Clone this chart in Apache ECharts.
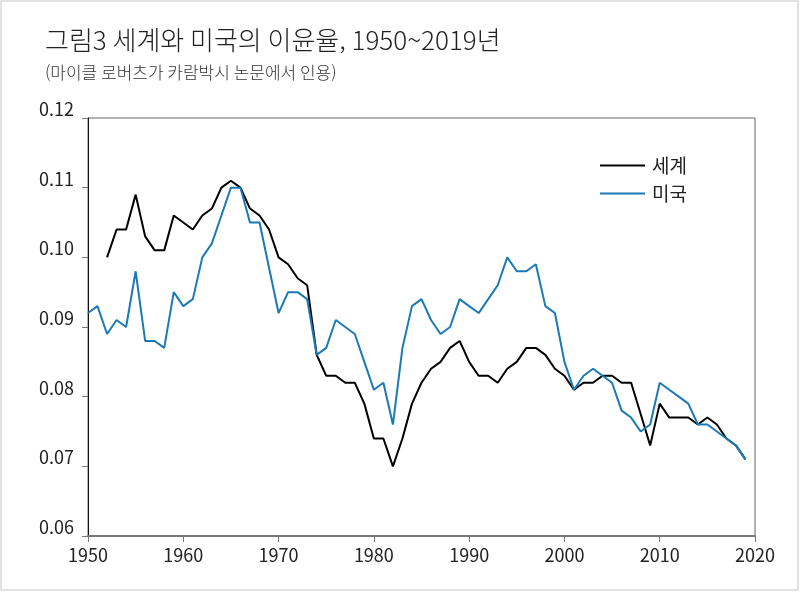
<!DOCTYPE html>
<html lang="ko">
<head>
<meta charset="UTF-8">
<title>그림3 세계와 미국의 이윤율</title>
<script src="https://cdn.jsdelivr.net/npm/echarts@6/dist/echarts.min.js"></script>
<style>
  html, body { margin: 0; padding: 0; background: #fff; }
  #main { width: 800px; height: 592px; }
</style>
</head>
<body>
<div id="main"></div>
<script>
// 연도
var years = [];
for (var y = 1950; y <= 2019; y++) years.push(y);

// 세계 이윤율 (1950, 1951 없음)
var world = [
  null, null, 0.100, 0.104, 0.104, 0.109, 0.103, 0.101, 0.101, 0.106,
  0.105, 0.104, 0.106, 0.107, 0.110, 0.111, 0.110, 0.107, 0.106, 0.104,
  0.100, 0.099, 0.097, 0.096, 0.086, 0.083, 0.083, 0.082, 0.082, 0.079,
  0.074, 0.074, 0.070, 0.074, 0.079, 0.082, 0.084, 0.085, 0.087, 0.088,
  0.085, 0.083, 0.083, 0.082, 0.084, 0.085, 0.087, 0.087, 0.086, 0.084,
  0.083, 0.081, 0.082, 0.082, 0.083, 0.083, 0.082, 0.082, 0.0775, 0.073,
  0.079, 0.077, 0.077, 0.077, 0.076, 0.077, 0.076, 0.074, 0.073, 0.071
];

// 미국 이윤율
var usa = [
  0.092, 0.093, 0.089, 0.091, 0.090, 0.098, 0.088, 0.088, 0.087, 0.095,
  0.093, 0.094, 0.100, 0.102, 0.106, 0.110, 0.110, 0.105, 0.105, 0.0985,
  0.092, 0.095, 0.095, 0.094, 0.086, 0.087, 0.091, 0.090, 0.089, 0.085,
  0.081, 0.082, 0.076, 0.087, 0.093, 0.094, 0.091, 0.089, 0.090, 0.094,
  0.093, 0.092, 0.094, 0.096, 0.100, 0.098, 0.098, 0.099, 0.093, 0.092,
  0.085, 0.081, 0.083, 0.084, 0.083, 0.082, 0.078, 0.077, 0.075, 0.076,
  0.082, 0.081, 0.080, 0.079, 0.076, 0.076, 0.075, 0.074, 0.073, 0.071
];

var seriesNames = ['세계', '미국'];

function pairs(vals) {
  return years.map(function (yr, i) { return [yr, vals[i]]; });
}

var chart = echarts.init(document.getElementById('main'));
var tickFont = "'Noto Sans CJK KR', sans-serif";

var option = {
  backgroundColor: '#fff',
  animation: false,
  title: {
    text: '그림3 세계와 미국의 이윤율, 1950~2019년',
    subtext: '(마이클 로버츠가 카람박시 논문에서 인용)',
    left: 40,
    top: 22,
    itemGap: 11,
    textStyle: {
      fontFamily: 'Noto Sans CJK KR',
      fontWeight: 300,
      fontSize: 26,
      color: '#222'
    },
    subtextStyle: {
      fontFamily: 'Noto Sans CJK KR',
      fontWeight: 300,
      fontSize: 17,
      color: '#333'
    }
  },
  legend: {
    data: seriesNames,
    orient: 'vertical',
    left: 595,
    top: 151,
    itemWidth: 45,
    itemHeight: 2,
    itemGap: 9,
    icon: 'rect',
    textStyle: {
      fontFamily: 'Noto Sans CJK KR',
      fontSize: 19,
      color: '#222',
      padding: [0, 0, 0, 2]
    }
  },
  graphic: [{
    type: 'rect',
    shape: { x: 1, y: 1, width: 797, height: 589 },
    style: { fill: 'none', stroke: '#e2e2e2', lineWidth: 2 },
    silent: true
  }],
  grid: {
    left: 88,
    right: 45,
    top: 118,
    bottom: 56,
    show: true,
    borderColor: '#666',
    borderWidth: 1,
    backgroundColor: 'transparent'
  },
  xAxis: {
    type: 'value',
    min: 1950,
    max: 2020,
    interval: 10,
    axisLine: { show: true, lineStyle: { color: '#777', width: 2 } },
    axisTick: { show: true, length: 6, lineStyle: { color: '#777' } },
    splitLine: { show: false },
    axisLabel: {
      fontFamily: tickFont,
      fontSize: 18,
      color: '#222',
      margin: 10,
      formatter: function (v) { return String(v); }
    }
  },
  yAxis: {
    type: 'value',
    min: 0.06,
    max: 0.12,
    interval: 0.01,
    axisLine: { show: true, lineStyle: { color: '#111', width: 1 } },
    axisTick: { show: true, length: 6, lineStyle: { color: '#777' } },
    splitLine: { show: false },
    axisLabel: {
      fontFamily: tickFont,
      fontSize: 18,
      color: '#222',
      margin: 14,
      verticalAlign: 'bottom',
      formatter: function (v) { return v.toFixed(2); }
    }
  },
  series: [
    {
      name: seriesNames[0],
      type: 'line',
      data: pairs(world),
      showSymbol: false,
      connectNulls: false,
      lineStyle: { color: '#000', width: 2 },
      itemStyle: { color: '#000' }
    },
    {
      name: seriesNames[1],
      type: 'line',
      data: pairs(usa),
      showSymbol: false,
      lineStyle: { color: '#1b7ab5', width: 2 },
      itemStyle: { color: '#1b7ab5' }
    }
  ]
};

chart.setOption(option);
</script>
</body>
</html>
